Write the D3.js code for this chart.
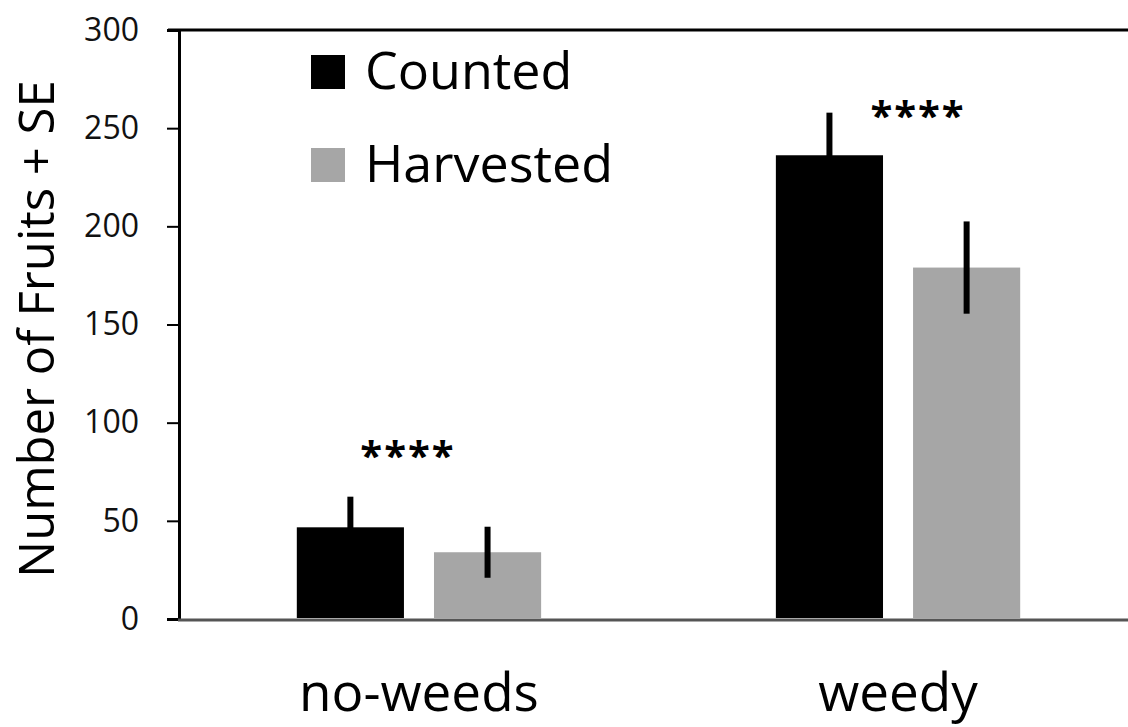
<!DOCTYPE html>
<html>
<head>
<meta charset="utf-8">
<script src="https://cdn.jsdelivr.net/npm/d3@7"></script>
<style>
  html, body { margin: 0; padding: 0; background: #fff; }
  svg { display: block; font-family: "Open Sans", Lato, sans-serif; }
</style>
</head>
<body>
<svg id="chart" width="1128" height="727"></svg>
<script>
// Treatments and series
const groups = ["no-weeds", "weedy"];
const series = ["Counted", "Harvested"];
// Mean number of fruits per treatment, one array per series
const counted = [46.7, 236.2];
const harvested = [34.0, 179.0];
// Standard errors
const countedSE = [15.6, 21.7];
const harvestedSE = [13.0, 23.5];
// Significance marks for each treatment
const sigLabels = ["****", "****"];
const yTicks = [0, 50, 100, 150, 200, 250, 300];

const colors = { Counted: "#000000", Harvested: "#a6a6a6" };

const svg = d3.select("#chart");
const W = 1128;

const y = d3.scaleLinear().domain([0, 300]).range([619, 30]);
const x0 = d3.scaleBand().domain(groups).range([178, 1139])
  .paddingInner(0.49).paddingOuter(0.248);
const x1 = d3.scaleBand().domain(series).range([0, x0.bandwidth()])
  .paddingInner(0.219).paddingOuter(0);

const rows = groups.map((g, i) => ({
  group: g,
  values: [
    { s: "Counted", v: counted[i], se: countedSE[i] },
    { s: "Harvested", v: harvested[i], se: harvestedSE[i] }
  ]
}));

// Bars
const g = svg.append("g").selectAll("g").data(rows).join("g")
  .attr("transform", d => `translate(${x0(d.group)},0)`);
g.selectAll("rect").data(d => d.values).join("rect")
  .attr("x", d => x1(d.s))
  .attr("y", d => y(d.v))
  .attr("width", x1.bandwidth())
  .attr("height", d => y(0) - y(d.v) - 1)
  .attr("fill", d => colors[d.s]);

// Error bars (mean ± SE)
g.selectAll("line.err").data(d => d.values).join("line")
  .attr("class", "err")
  .attr("x1", d => x1(d.s) + x1.bandwidth() / 2)
  .attr("x2", d => x1(d.s) + x1.bandwidth() / 2)
  .attr("y1", d => y(d.v + d.se))
  .attr("y2", d => y(d.v - d.se))
  .attr("stroke", "#000")
  .attr("stroke-width", 6);

// Significance asterisks: the no-weeds mark sits between its two bars,
// the weedy mark sits just right of the counted error bar
const sigX = [
  x0("no-weeds") + x0.bandwidth() / 2 - 11,
  x0("weedy") + x0.bandwidth() / 2 + 20
];
const sigY = [y(counted[0] + countedSE[0]) - 27, y(counted[1] + countedSE[1]) + 17];
svg.append("g").selectAll("text").data(sigLabels).join("text")
  .attr("x", (d, i) => sigX[i])
  .attr("y", (d, i) => sigY[i])
  .attr("text-anchor", "middle")
  .attr("font-size", 40)
  .attr("font-weight", 700)
  .attr("letter-spacing", 2)
  .attr("fill", "#000")
  .text(d => d);

// Y axis
const yAxis = d3.axisLeft(y).tickValues(yTicks).tickSize(12).tickPadding(28);
const ya = svg.append("g").attr("transform", "translate(179,0)").call(yAxis);
ya.select(".domain").attr("stroke", "#000").attr("stroke-width", 3);
ya.selectAll(".tick line").attr("stroke", "#000").attr("stroke-width", 2);
ya.selectAll(".tick text").attr("font-size", 32).attr("fill", "#111")
  .attr("font-family", "'Open Sans', sans-serif");

// Top frame line
svg.append("line").attr("x1", 168).attr("x2", W).attr("y1", 30).attr("y2", 30)
  .attr("stroke", "#000").attr("stroke-width", 3);

// X axis baseline
svg.append("line").attr("x1", 178).attr("x2", W).attr("y1", y(0) + 1).attr("y2", y(0) + 1)
  .attr("stroke", "#555").attr("stroke-width", 3);

// Category labels
svg.append("g").selectAll("text").data(groups).join("text")
  .attr("x", d => x0(d) + x0.bandwidth() / 2)
  .attr("y", 711)
  .attr("text-anchor", "middle")
  .attr("font-size", 53)
  .attr("fill", "#000")
  .text(d => d);

// Y axis title
svg.append("text")
  .attr("transform", "translate(54,329) rotate(-90)")
  .attr("text-anchor", "middle")
  .attr("font-size", 49)
  .attr("fill", "#000")
  .text("Number of Fruits + SE");

// Legend
const legend = svg.append("g").selectAll("g").data(series).join("g")
  .attr("transform", (d, i) => `translate(311,${55 + i * 93})`);
legend.append("rect").attr("width", 34).attr("height", 34).attr("fill", d => colors[d]);
legend.append("text").attr("x", 54).attr("y", 34)
  .attr("font-size", 52).attr("fill", "#000").text(d => d);
</script>
</body>
</html>
